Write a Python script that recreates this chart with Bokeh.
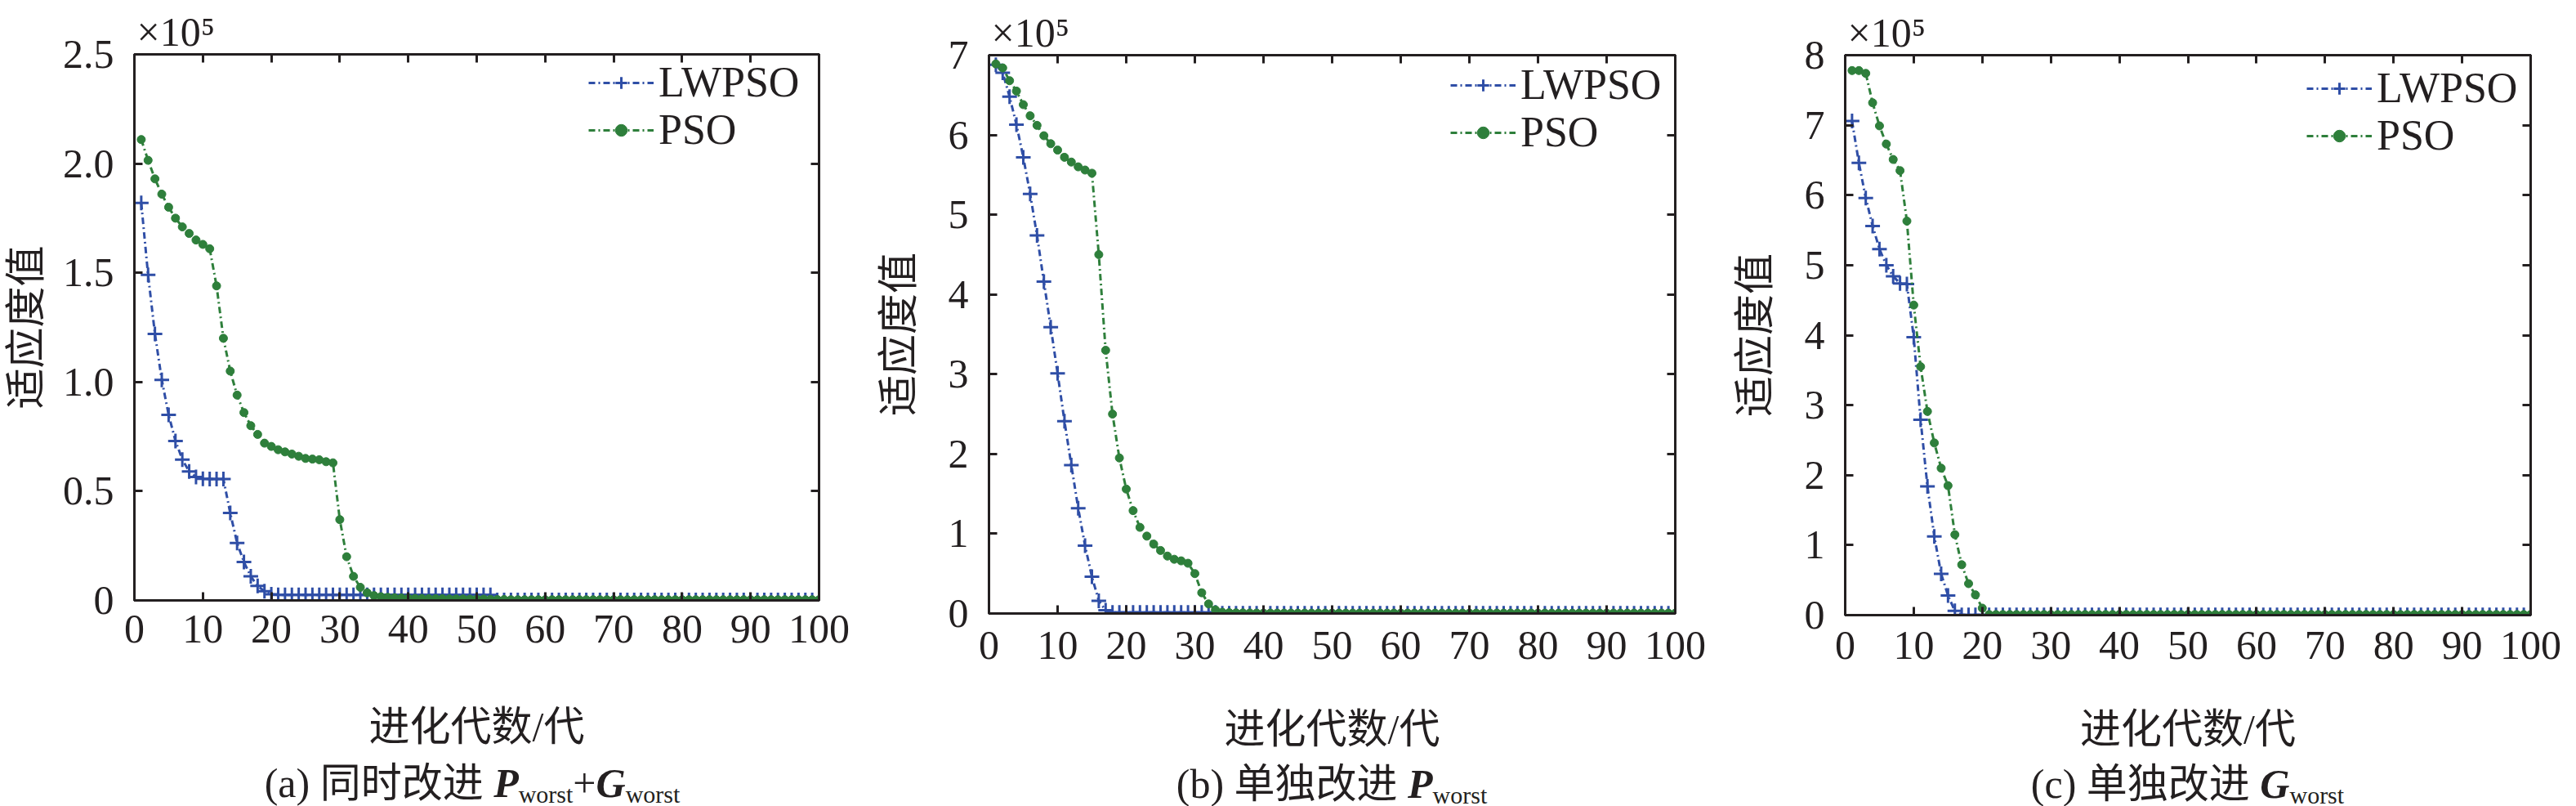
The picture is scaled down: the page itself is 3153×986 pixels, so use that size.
from bokeh.plotting import figure
from bokeh.models import (Range1d, LinearAxis, Legend, LegendItem, FixedTicker,
                          CustomJSTickFormatter, Title, Div)
from bokeh.layouts import row, column
from bokeh.embed import file_html
from bokeh.resources import INLINE

# ---------------- data (fitness values in units of 1e5) ----------------
generations = list(range(1, 101))
x_ticks = [0, 10, 20, 30, 40, 50, 60, 70, 80, 90, 100]

# (a) improve P_worst + G_worst
a_lwpso = [
    1.82, 1.49, 1.22, 1.01, 0.85, 0.73, 0.645, 0.59, 0.565, 0.557,
    0.556, 0.556, 0.556, 0.40, 0.263, 0.176, 0.11, 0.066, 0.042, 0.028,
    0.025, 0.025, 0.025, 0.025, 0.025, 0.025, 0.025, 0.025, 0.025, 0.025,
    0.025, 0.025, 0.025, 0.025, 0.025, 0.025, 0.025, 0.025, 0.025, 0.025,
    0.025, 0.025, 0.025, 0.025, 0.025, 0.025, 0.025, 0.025, 0.025, 0.025,
    0.025, 0.025, 0.002, 0.002, 0.002, 0.002, 0.002, 0.002, 0.002, 0.002,
    0.002, 0.002, 0.002, 0.002, 0.002, 0.002, 0.002, 0.002, 0.002, 0.002,
    0.002, 0.002, 0.002, 0.002, 0.002, 0.002, 0.002, 0.002, 0.002, 0.002,
    0.002, 0.002, 0.002, 0.002, 0.002, 0.002, 0.002, 0.002, 0.002, 0.002,
    0.002, 0.002, 0.002, 0.002, 0.002, 0.002, 0.002, 0.002, 0.002, 0.002,
]
a_pso = [
    2.11, 2.015, 1.93, 1.86, 1.80, 1.75, 1.71, 1.68, 1.65, 1.63,
    1.61, 1.44, 1.20, 1.05, 0.94, 0.86, 0.80, 0.76, 0.72, 0.705,
    0.69, 0.68, 0.67, 0.66, 0.65, 0.647, 0.644, 0.635, 0.63, 0.37,
    0.20, 0.11, 0.06, 0.035, 0.022, 0.017, 0.014, 0.012, 0.011, 0.010,
    0.009, 0.009, 0.008, 0.008, 0.008, 0.007, 0.007, 0.007, 0.006, 0.006,
    0.006, 0.005, 0.004, 0.004, 0.003, 0.003, 0.003, 0.003, 0.003, 0.003,
    0.003, 0.003, 0.003, 0.003, 0.003, 0.003, 0.003, 0.003, 0.003, 0.003,
    0.003, 0.003, 0.003, 0.003, 0.003, 0.003, 0.003, 0.003, 0.003, 0.003,
    0.003, 0.003, 0.003, 0.003, 0.003, 0.003, 0.003, 0.003, 0.003, 0.003,
    0.003, 0.003, 0.003, 0.003, 0.003, 0.003, 0.003, 0.003, 0.003, 0.003,
]
a_y_ticks = [0, 0.5, 1.0, 1.5, 2.0, 2.5]
a_y_tick_labels = ["0", "0.5", "1.0", "1.5", "2.0", "2.5"]

# (b) improve P_worst only
b_lwpso = [
    6.88, 6.78, 6.48, 6.13, 5.72, 5.26, 4.74, 4.16, 3.59, 3.01,
    2.41, 1.86, 1.32, 0.85, 0.46, 0.16, 0.04, 0.012, 0.012, 0.012,
    0.012, 0.012, 0.012, 0.012, 0.012, 0.012, 0.012, 0.012, 0.012, 0.012,
    0.012, 0.012, 0.012, 0.003, 0.003, 0.003, 0.003, 0.003, 0.003, 0.003,
    0.003, 0.003, 0.003, 0.003, 0.003, 0.003, 0.003, 0.003, 0.003, 0.003,
    0.003, 0.003, 0.003, 0.003, 0.003, 0.003, 0.003, 0.003, 0.003, 0.003,
    0.003, 0.003, 0.003, 0.003, 0.003, 0.003, 0.003, 0.003, 0.003, 0.003,
    0.003, 0.003, 0.003, 0.003, 0.003, 0.003, 0.003, 0.003, 0.003, 0.003,
    0.003, 0.003, 0.003, 0.003, 0.003, 0.003, 0.003, 0.003, 0.003, 0.003,
    0.003, 0.003, 0.003, 0.003, 0.003, 0.003, 0.003, 0.003, 0.003, 0.003,
]
b_pso = [
    6.89, 6.84, 6.68, 6.55, 6.38, 6.24, 6.12, 5.99, 5.89, 5.81,
    5.72, 5.66, 5.60, 5.56, 5.52, 4.50, 3.30, 2.50, 1.95, 1.56,
    1.29, 1.08, 0.97, 0.87, 0.79, 0.72, 0.68, 0.66, 0.63, 0.50,
    0.26, 0.12, 0.045, 0.015, 0.010, 0.008, 0.007, 0.006, 0.005, 0.005,
    0.004, 0.004, 0.004, 0.004, 0.004, 0.004, 0.004, 0.004, 0.004, 0.004,
    0.004, 0.004, 0.004, 0.004, 0.004, 0.004, 0.004, 0.004, 0.004, 0.004,
    0.004, 0.004, 0.004, 0.004, 0.004, 0.004, 0.004, 0.004, 0.004, 0.004,
    0.004, 0.004, 0.004, 0.004, 0.004, 0.004, 0.004, 0.004, 0.004, 0.004,
    0.004, 0.004, 0.004, 0.004, 0.004, 0.004, 0.004, 0.004, 0.004, 0.004,
    0.004, 0.004, 0.004, 0.004, 0.004, 0.004, 0.004, 0.004, 0.004, 0.004,
]
b_y_ticks = [0, 1, 2, 3, 4, 5, 6, 7]
b_y_tick_labels = ["0", "1", "2", "3", "4", "5", "6", "7"]

# (c) improve G_worst only
c_lwpso = [
    7.06, 6.46, 5.96, 5.56, 5.23, 5.00, 4.84, 4.74, 4.73, 3.97,
    2.79, 1.84, 1.125, 0.59, 0.28, 0.06, 0.004, 0.003, 0.003, 0.003,
    0.003, 0.003, 0.003, 0.003, 0.003, 0.003, 0.003, 0.003, 0.003, 0.003,
    0.003, 0.003, 0.003, 0.003, 0.003, 0.003, 0.003, 0.003, 0.003, 0.003,
    0.003, 0.003, 0.003, 0.003, 0.003, 0.003, 0.003, 0.003, 0.003, 0.003,
    0.003, 0.003, 0.003, 0.003, 0.003, 0.003, 0.003, 0.003, 0.003, 0.003,
    0.003, 0.003, 0.003, 0.003, 0.003, 0.003, 0.003, 0.003, 0.003, 0.003,
    0.003, 0.003, 0.003, 0.003, 0.003, 0.003, 0.003, 0.003, 0.003, 0.003,
    0.003, 0.003, 0.003, 0.003, 0.003, 0.003, 0.003, 0.003, 0.003, 0.003,
    0.003, 0.003, 0.003, 0.003, 0.003, 0.003, 0.003, 0.003, 0.003, 0.003,
]
c_pso = [
    7.78, 7.78, 7.74, 7.32, 6.99, 6.73, 6.51, 6.35, 5.63, 4.43,
    3.55, 2.91, 2.46, 2.10, 1.85, 1.15, 0.72, 0.45, 0.29, 0.10,
    0.008, 0.008, 0.008, 0.008, 0.008, 0.008, 0.008, 0.008, 0.008, 0.008,
    0.008, 0.008, 0.008, 0.008, 0.008, 0.008, 0.008, 0.008, 0.008, 0.008,
    0.008, 0.008, 0.008, 0.008, 0.008, 0.008, 0.008, 0.008, 0.008, 0.008,
    0.008, 0.008, 0.008, 0.008, 0.008, 0.008, 0.008, 0.008, 0.008, 0.008,
    0.008, 0.008, 0.008, 0.008, 0.008, 0.008, 0.008, 0.008, 0.008, 0.008,
    0.008, 0.008, 0.008, 0.008, 0.008, 0.008, 0.008, 0.008, 0.008, 0.008,
    0.008, 0.008, 0.008, 0.008, 0.008, 0.008, 0.008, 0.008, 0.008, 0.008,
    0.008, 0.008, 0.008, 0.008, 0.008, 0.008, 0.008, 0.008, 0.008, 0.008,
]
c_y_ticks = [0, 1, 2, 3, 4, 5, 6, 7, 8]
c_y_tick_labels = ["0", "1", "2", "3", "4", "5", "6", "7", "8"]

series_names = ["LWPSO", "PSO"]
x_label = "进化代数/代"
y_label = "适应度值"
scale_note = "×10⁵"
SUB = '<span style="font-size:30px;vertical-align:-7px">worst</span>'
captions = [
    "(a) 同时改进 <b><i>P</i></b>" + SUB + "+<b><i>G</i></b>" + SUB,
    "(b) 单独改进 <b><i>P</i></b>" + SUB,
    "(c) 单独改进 <b><i>G</i></b>" + SUB,
]

# ---------------- style ----------------
SERIF = "Liberation Serif"
MIX = "Liberation Serif, Noto Sans CJK SC"
INK = "#231f20"
BLUE = "#2f4ea6"
GREEN = "#2e7f3b"
DASH = "8 4 2 4"


def style_axis(ax, show_labels):
    ax.axis_line_color = INK
    ax.axis_line_width = 3
    ax.major_tick_line_color = INK
    ax.major_tick_line_width = 3
    ax.major_tick_in = 10
    ax.major_tick_out = 0
    ax.minor_tick_line_color = None
    ax.major_label_text_font = SERIF
    ax.major_label_text_color = INK
    if show_labels:
        ax.major_label_text_font_size = "50px"
    else:
        ax.formatter = CustomJSTickFormatter(code="return ''")
        ax.major_label_text_font_size = "1px"
        ax.major_label_standoff = 0


def make_panel(lw, ps, y_max, y_ticks, y_tick_labels, frame_w, frame_h, top, bottom, right,
               x_lab_standoffs, y_lab_standoff, legend_x, legend_rows, caption, cap_pad):
    p = figure(frame_width=frame_w, frame_height=frame_h,
               x_range=Range1d(0, 100), y_range=Range1d(0, y_max),
               output_backend="svg", toolbar_location=None,
               x_axis_type=None, y_axis_type=None,
               min_border_left=159, min_border_right=right,
               min_border_top=top, min_border_bottom=bottom)
    p.background_fill_color = "white"
    p.border_fill_color = "white"
    p.outline_line_color = INK
    p.outline_line_width = 3

    xt = FixedTicker(ticks=x_ticks, minor_ticks=[])
    yt = FixedTicker(ticks=y_ticks, minor_ticks=[])

    xb = LinearAxis(ticker=xt)
    style_axis(xb, True)
    xb.major_label_standoff = x_lab_standoffs[0]
    xb.axis_label = x_label
    xb.axis_label_text_font = MIX
    xb.axis_label_text_font_size = "50px"
    xb.axis_label_text_font_style = "normal"
    xb.axis_label_text_color = INK
    xb.axis_label_standoff = x_lab_standoffs[1]
    p.add_layout(xb, "below")

    yl = LinearAxis(ticker=yt)
    style_axis(yl, True)
    yl.major_label_standoff = 25
    yl.major_label_overrides = {float(t): s for t, s in zip(y_ticks, y_tick_labels)}
    yl.axis_label = y_label
    yl.axis_label_text_font = MIX
    yl.axis_label_text_font_size = "50px"
    yl.axis_label_text_font_style = "normal"
    yl.axis_label_text_color = INK
    yl.axis_label_standoff = y_lab_standoff
    p.add_layout(yl, "left")

    xa = LinearAxis(ticker=xt)
    style_axis(xa, False)
    p.add_layout(xa, "above")
    yr = LinearAxis(ticker=yt)
    style_axis(yr, False)
    p.add_layout(yr, "right")

    p.add_layout(Title(text=scale_note, align="left", offset=3, standoff=0,
                       text_font=SERIF, text_font_size="50px", text_font_style="normal",
                       text_color=INK), "above")

    l1 = p.line(generations, lw, line_color=BLUE, line_width=3, line_dash=DASH)
    s1 = p.scatter(generations, lw, marker="cross", size=18, line_color=BLUE, line_width=3)
    l2 = p.line(generations, ps, line_color=GREEN, line_width=3, line_dash=DASH)
    s2 = p.scatter(generations, ps, marker="circle", size=10, line_color=GREEN, fill_color=GREEN)

    half_h = 29
    for name, rends, below_top in ((series_names[0], [l1, s1], legend_rows[0]),
                                   (series_names[1], [l2, s2], legend_rows[1])):
        leg = Legend(items=[LegendItem(label=name, renderers=rends)],
                     location=(legend_x, frame_h - below_top - half_h),
                     border_line_color=None, background_fill_alpha=0,
                     label_text_font=SERIF, label_text_font_size="52px", label_text_color=INK,
                     glyph_width=80, glyph_height=36, label_height=36, label_standoff=6,
                     padding=0, margin=0, spacing=0)
        p.add_layout(leg)

    fig_w = 159 + frame_w + right
    pad_left = 2 * (159 + frame_w / 2) - fig_w
    div = Div(text=('<div style="box-sizing:border-box;width:%dpx;padding-left:%dpx;'
                    'padding-top:%dpx;text-align:center;white-space:nowrap;'
                    'font-family:\'Liberation Serif\',\'Noto Sans CJK SC\';'
                    'font-size:50px;line-height:50px;color:%s">%s</div>')
                   % (fig_w, pad_left, cap_pad, INK, caption),
              width=fig_w, height=56, margin=0, styles={"overflow": "visible"})
    return column(p, div, spacing=0)


pa = make_panel(a_lwpso, a_pso, 2.5, a_y_ticks, a_y_tick_labels, 838, 668, 66, 175, 49,
                (18, 72), 14, 556, (35, 93), captions[0], 14)
pb = make_panel(b_lwpso, b_pso, 7, b_y_ticks, b_y_tick_labels, 840, 683, 67, 162, 49,
                (22, 55), 30, 565, (37, 95), captions[1], 12)
pc = make_panel(c_lwpso, c_pso, 8, c_y_ticks, c_y_tick_labels, 839, 685, 67, 160, 45,
                (20, 55), 30, 565, (41, 99), captions[2], 12)

layout = row(pa, pb, pc, spacing=0)
open("out.html", "w").write(file_html(layout, INLINE))
